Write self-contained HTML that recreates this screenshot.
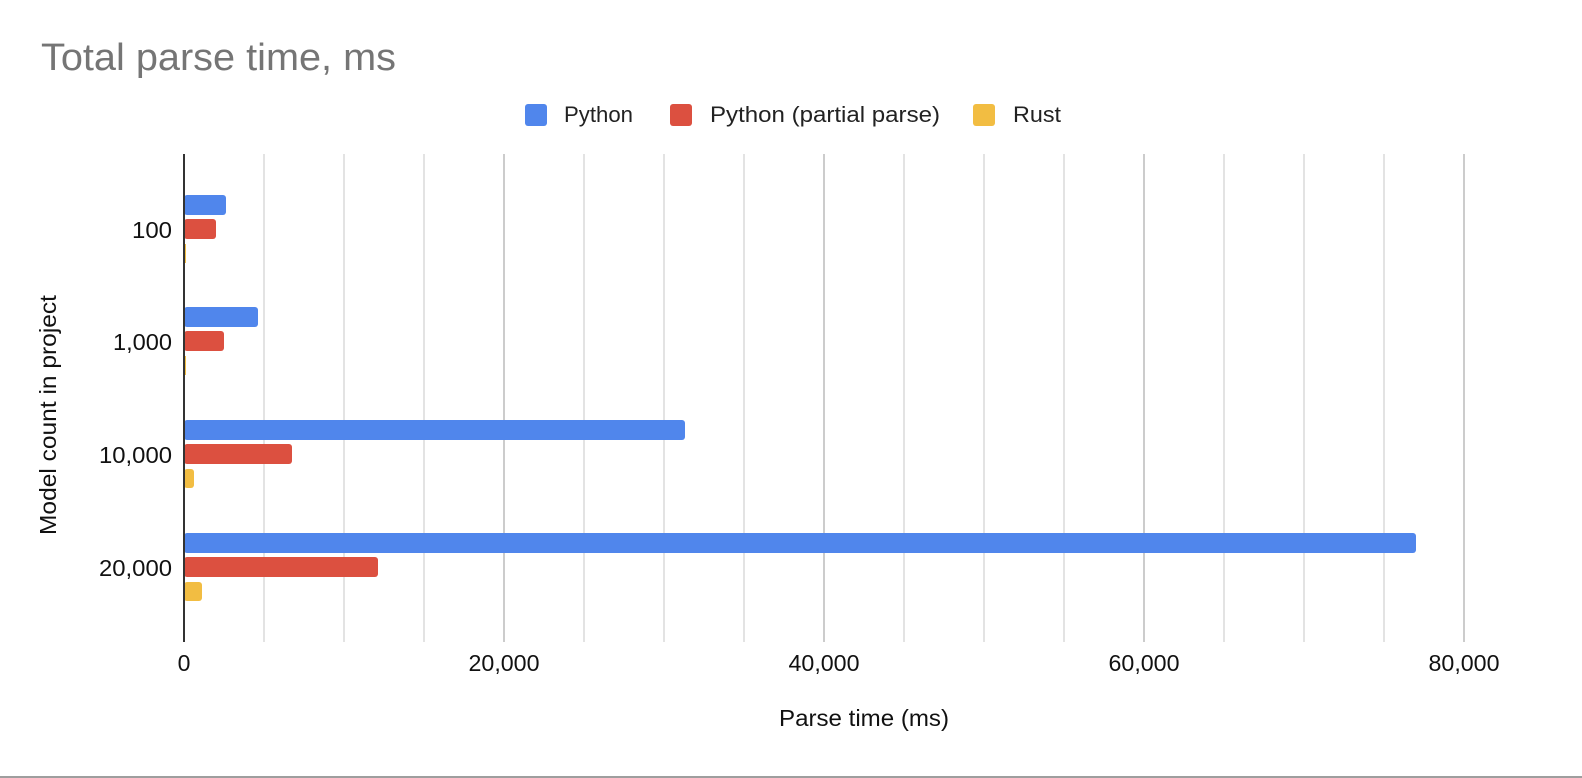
<!DOCTYPE html>
<html><head><style>
html,body{margin:0;padding:0;background:#fff;}
svg{display:block;font-family:"Liberation Sans",Arial,sans-serif;}
</style></head><body>
<svg width="1582" height="778" viewBox="0 0 1582 778" xmlns="http://www.w3.org/2000/svg">
<rect width="1582" height="778" fill="#fff"/>
<text x="41" y="70" font-size="38" fill="#757575" textLength="355" lengthAdjust="spacingAndGlyphs">Total parse time, ms</text>
<rect x="525" y="104" width="22" height="22" rx="3" fill="#5086ec"/>
<text x="564" y="122" font-size="22" fill="#222" textLength="69" lengthAdjust="spacingAndGlyphs">Python</text>
<rect x="670" y="104" width="22" height="22" rx="3" fill="#dc5040"/>
<text x="710" y="122" font-size="22" fill="#222" textLength="230" lengthAdjust="spacingAndGlyphs">Python (partial parse)</text>
<rect x="973" y="104" width="22" height="22" rx="3" fill="#f2bd42"/>
<text x="1013" y="122" font-size="22" fill="#222" textLength="48" lengthAdjust="spacingAndGlyphs">Rust</text>
<g stroke-width="2">
<line x1="264" y1="154" x2="264" y2="642" stroke="#e3e3e3"/>
<line x1="344" y1="154" x2="344" y2="642" stroke="#e3e3e3"/>
<line x1="424" y1="154" x2="424" y2="642" stroke="#e3e3e3"/>
<line x1="504" y1="154" x2="504" y2="642" stroke="#cccccc"/>
<line x1="584" y1="154" x2="584" y2="642" stroke="#e3e3e3"/>
<line x1="664" y1="154" x2="664" y2="642" stroke="#e3e3e3"/>
<line x1="744" y1="154" x2="744" y2="642" stroke="#e3e3e3"/>
<line x1="824" y1="154" x2="824" y2="642" stroke="#cccccc"/>
<line x1="904" y1="154" x2="904" y2="642" stroke="#e3e3e3"/>
<line x1="984" y1="154" x2="984" y2="642" stroke="#e3e3e3"/>
<line x1="1064" y1="154" x2="1064" y2="642" stroke="#e3e3e3"/>
<line x1="1144" y1="154" x2="1144" y2="642" stroke="#cccccc"/>
<line x1="1224" y1="154" x2="1224" y2="642" stroke="#e3e3e3"/>
<line x1="1304" y1="154" x2="1304" y2="642" stroke="#e3e3e3"/>
<line x1="1384" y1="154" x2="1384" y2="642" stroke="#e3e3e3"/>
<line x1="1464" y1="154" x2="1464" y2="642" stroke="#cccccc"/>
</g>
<g>
<rect x="184" y="195" width="42" height="20" rx="3" fill="#5086ec"/>
<rect x="184" y="219" width="32" height="20" rx="3" fill="#dc5040"/>
<rect x="184" y="244" width="2" height="19" fill="#f2bd42"/>
<rect x="184" y="307" width="74" height="20" rx="3" fill="#5086ec"/>
<rect x="184" y="331" width="40" height="20" rx="3" fill="#dc5040"/>
<rect x="184" y="356" width="2" height="19" fill="#f2bd42"/>
<rect x="184" y="420" width="501" height="20" rx="3" fill="#5086ec"/>
<rect x="184" y="444" width="108" height="20" rx="3" fill="#dc5040"/>
<rect x="184" y="469" width="10" height="19" rx="3" fill="#f2bd42"/>
<rect x="184" y="533" width="1232" height="20" rx="3" fill="#5086ec"/>
<rect x="184" y="557" width="194" height="20" rx="3" fill="#dc5040"/>
<rect x="184" y="582" width="18" height="19" rx="3" fill="#f2bd42"/>
</g>
<line x1="184" y1="154" x2="184" y2="642" stroke="#333" stroke-width="2"/>
<g font-size="23" fill="#111" text-anchor="end">
<text x="172" y="238" textLength="40" lengthAdjust="spacingAndGlyphs">100</text>
<text x="172" y="350" textLength="59" lengthAdjust="spacingAndGlyphs">1,000</text>
<text x="172" y="463" textLength="73" lengthAdjust="spacingAndGlyphs">10,000</text>
<text x="172" y="576" textLength="73" lengthAdjust="spacingAndGlyphs">20,000</text>
</g>
<g font-size="23" fill="#111" text-anchor="middle">
<text x="184" y="671">0</text>
<text x="504" y="671" textLength="71" lengthAdjust="spacingAndGlyphs">20,000</text>
<text x="824" y="671" textLength="71" lengthAdjust="spacingAndGlyphs">40,000</text>
<text x="1144" y="671" textLength="71" lengthAdjust="spacingAndGlyphs">60,000</text>
<text x="1464" y="671" textLength="71" lengthAdjust="spacingAndGlyphs">80,000</text>
<text x="864" y="726" textLength="170" lengthAdjust="spacingAndGlyphs">Parse time (ms)</text>
<text x="0" y="0" transform="translate(56,415) rotate(-90)" textLength="240" lengthAdjust="spacingAndGlyphs">Model count in project</text>
</g>
<line x1="0" y1="777" x2="1582" y2="777" stroke="#9e9e9e" stroke-width="2"/>
</svg>
</body></html>
